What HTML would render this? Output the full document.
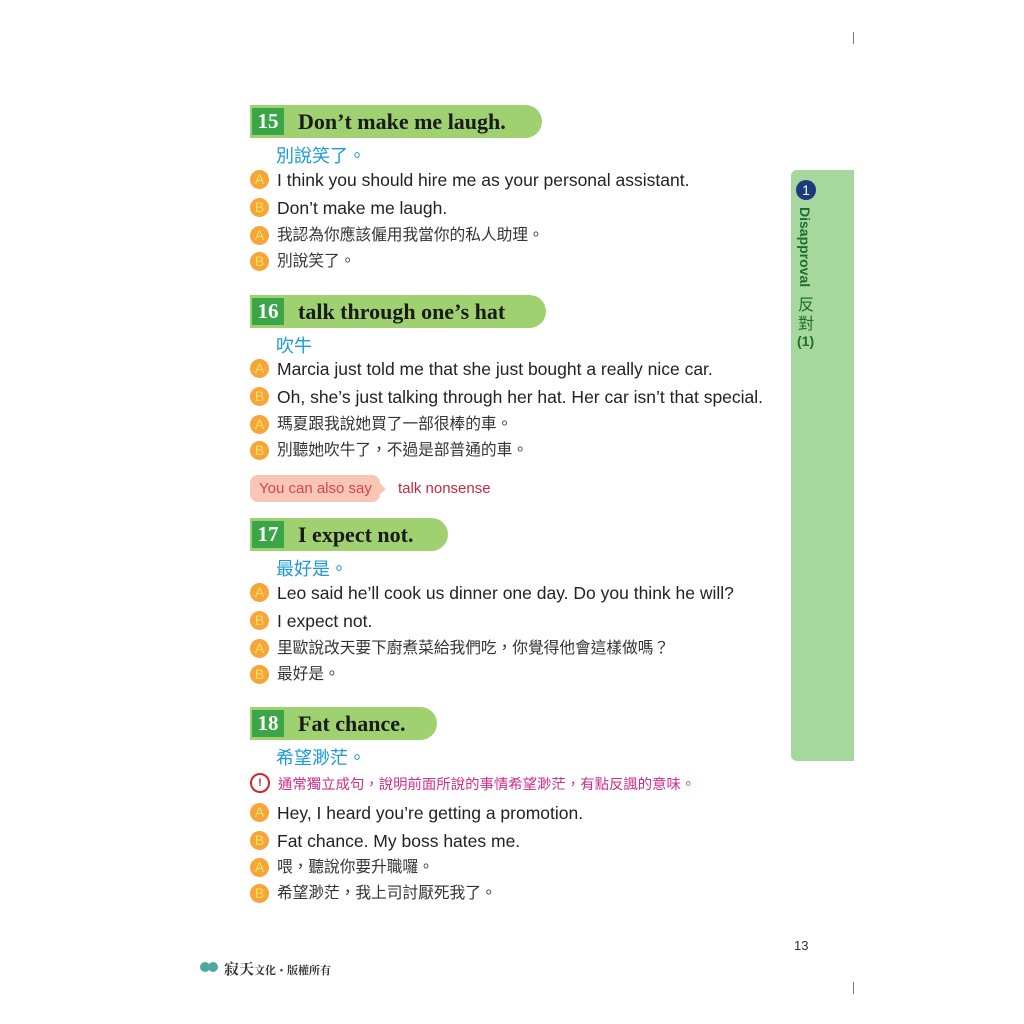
<!DOCTYPE html>
<html><head><meta charset="utf-8"><style>
body{margin:0;width:1024px;height:1024px;background:#fff;position:relative;overflow:hidden;font-family:"Liberation Sans","Noto Sans CJK TC",sans-serif;}
.a{position:absolute;white-space:nowrap;}
.hd{position:absolute;left:250px;height:33px;background:#9fd171;border-radius:0 17px 17px 0;}
.num{position:absolute;left:2px;top:3px;width:32px;height:27px;background:#3aa648;color:#fff;font:bold 21px/27px "Liberation Serif","DejaVu Serif",serif;text-align:center;}
.ttl{position:absolute;left:48px;top:0;font:bold 22px/33px "Liberation Serif","DejaVu Serif",serif;color:#1a1a1a;white-space:nowrap;}
.sub{position:absolute;left:276px;font-size:18px;color:#1b9ad8;line-height:20px;font-family:"Noto Sans CJK TC",sans-serif;white-space:nowrap;}
.ln{position:absolute;left:250px;height:20px;line-height:20px;font-size:17.5px;color:#222;white-space:nowrap;}
.cn{font-size:15.7px;color:#333;}
.b{display:inline-block;width:19px;height:19px;border-radius:50%;background:#f6a53a;color:#ffe15a;font-size:14px;line-height:19px;text-align:center;margin-right:8px;vertical-align:top;}
</style></head><body>
<div class="a" style="left:853px;top:32px;width:1px;height:12px;background:#777"></div>
<div class="a" style="left:853px;top:982px;width:1px;height:12px;background:#777"></div>

<div class="hd" style="top:105px;width:292px"><div class="num">15</div><div class="ttl">Don’t make me laugh.</div></div>
<div class="sub" style="top:145px">別說笑了。</div>
<div class="ln" style="top:170px"><span class="b">A</span>I think you should hire me as your personal assistant.</div>
<div class="ln" style="top:198px"><span class="b">B</span>Don’t make me laugh.</div>
<div class="ln cn" style="top:226px"><span class="b">A</span>我認為你應該僱用我當你的私人助理。</div>
<div class="ln cn" style="top:252px"><span class="b">B</span>別說笑了。</div>

<div class="hd" style="top:295px;width:296px"><div class="num">16</div><div class="ttl">talk through one’s hat</div></div>
<div class="sub" style="top:335px">吹牛</div>
<div class="ln" style="top:359px"><span class="b">A</span>Marcia just told me that she just bought a really nice car.</div>
<div class="ln" style="top:387px"><span class="b">B</span>Oh, she’s just talking through her hat. Her car isn’t that special.</div>
<div class="ln cn" style="top:415px"><span class="b">A</span>瑪夏跟我說她買了一部很棒的車。</div>
<div class="ln cn" style="top:441px"><span class="b">B</span>別聽她吹牛了，不過是部普通的車。</div>

<div class="a" style="left:250px;top:475px;width:130px;height:27px;background:#f9c6b5;border-radius:8px;"></div>
<div class="a" style="left:378px;top:482px;width:0;height:0;border-top:7px solid transparent;border-bottom:7px solid transparent;border-left:8px solid #f9c6b5;"></div>
<div class="a" style="left:259px;top:479px;font-size:15px;line-height:19px;color:#d9434a">You can also say</div>
<div class="a" style="left:398px;top:479px;font-size:15px;line-height:19px;color:#c8283e">talk nonsense</div>

<div class="hd" style="top:518px;width:198px"><div class="num">17</div><div class="ttl">I expect not.</div></div>
<div class="sub" style="top:558px">最好是。</div>
<div class="ln" style="top:583px"><span class="b">A</span>Leo said he’ll cook us dinner one day. Do you think he will?</div>
<div class="ln" style="top:611px"><span class="b">B</span>I expect not.</div>
<div class="ln cn" style="top:639px"><span class="b">A</span>里歐說改天要下廚煮菜給我們吃，你覺得他會這樣做嗎？</div>
<div class="ln cn" style="top:665px"><span class="b">B</span>最好是。</div>

<div class="hd" style="top:707px;width:187px"><div class="num">18</div><div class="ttl">Fat chance.</div></div>
<div class="sub" style="top:747px">希望渺茫。</div>
<div class="a" style="left:250px;top:773px;width:16px;height:16px;border-radius:50%;border:2px solid #d0262e;background:#fff;color:#d0262e;font:bold 11px/16px sans-serif;text-align:center">!</div>
<div class="a" style="left:278px;top:775px;font-size:14.4px;line-height:18px;color:#d02f8c;font-family:'Noto Sans CJK TC',sans-serif">通常獨立成句，說明前面所說的事情希望渺茫，有點反諷的意味。</div>
<div class="ln" style="top:803px"><span class="b">A</span>Hey, I heard you’re getting a promotion.</div>
<div class="ln" style="top:831px"><span class="b">B</span>Fat chance. My boss hates me.</div>
<div class="ln cn" style="top:858px"><span class="b">A</span>喂，聽說你要升職囉。</div>
<div class="ln cn" style="top:884px"><span class="b">B</span>希望渺茫，我上司討厭死我了。</div>

<div class="a" style="left:791px;top:170px;width:63px;height:591px;background:#a6d79d;border-radius:6px 0 0 6px;"></div>
<div class="a" style="left:796px;top:180px;width:20px;height:20px;border-radius:50%;background:#1c3a7d;color:#fff;font-size:14px;line-height:20px;text-align:center">1</div>
<div class="a" style="left:797px;top:207px;writing-mode:vertical-rl;font-size:14px;font-weight:bold;color:#1e6e33;font-family:'Liberation Sans',sans-serif;">Disapproval</div>
<div class="a" style="left:797px;top:294px;width:18px;font-size:16px;line-height:19px;color:#1e6e33;font-family:'Noto Sans CJK TC',sans-serif;white-space:normal;text-align:center">反<br>對</div>
<div class="a" style="left:797px;top:333px;font-size:14px;font-weight:bold;color:#1e6e33">(1)</div>

<div class="a" style="left:794px;top:938px;font-size:13px;color:#333">13</div>
<div class="a" style="left:200px;top:962px;width:10px;height:10px;border-radius:50%;background:#4fa8a0"></div>
<div class="a" style="left:208px;top:962px;width:10px;height:10px;border-radius:50%;background:#4fa8a0"></div>
<div class="a" style="left:224px;top:958px;font-size:15px;color:#333;font-family:'Noto Serif CJK SC',serif;font-weight:bold">寂天<span style="font-size:11px">文化・版權所有</span></div>
</body></html>
